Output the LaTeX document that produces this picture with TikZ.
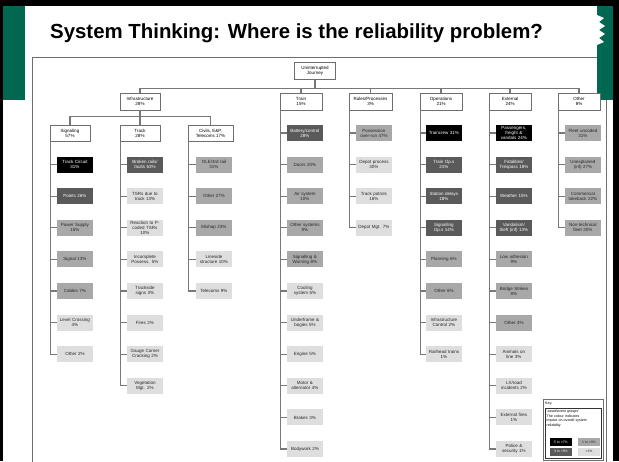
\documentclass[tikz,border=0pt]{standalone}
\usepackage{fontspec}
\setmainfont{Liberation Sans}
\definecolor{slidegreen}{RGB}{0,104,80}
\definecolor{gdark}{RGB}{90,90,90}
\definecolor{gmid}{RGB}{168,168,168}
\definecolor{glight}{RGB}{222,222,222}
\definecolor{boxgray}{RGB}{110,110,110}
\definecolor{lineg}{RGB}{120,120,120}
\begin{document}
\begin{tikzpicture}[x=1pt,y=-1pt,
  leaf/.style={minimum width=35pt, minimum height=16pt, inner sep=0.2pt,
    text width=35pt, align=center, anchor=west,
    font=\fontsize{4.5}{5.1}\selectfont},
  lvA/.style={leaf, fill=black, text=white},
  lvB/.style={leaf, fill=gdark, text=white},
  lvC/.style={leaf, fill=gmid, text=black!85},
  lvD/.style={leaf, fill=glight, text=black!85},
  catbox/.style={draw=boxgray, fill=white, line width=0.9pt, minimum width=42pt,
    minimum height=17pt, inner sep=0.4pt, align=center,
    font=\fontsize{4.5}{5.1}\selectfont},
  link/.style={draw=lineg, line width=1.1pt},
  keytxt/.style={font=\fontsize{3.6}{4.4}\selectfont, inner sep=0pt},
  swatch/.style={minimum width=22pt, minimum height=8pt, inner sep=0pt,
    font=\fontsize{3.4}{4}\selectfont}
]
\useasboundingbox (0,0) rectangle (619,461);
\fill[white] (0,0) rectangle (619,461);

% slide frame and diagram frame
\draw[boxgray, line width=0.8pt] (32,57) rectangle (606,475);
\fill[black] (0,0) rectangle (619,6);
\fill[black] (0,0) rectangle (3,461);
\fill[black] (613,0) rectangle (619,461);
\fill[slidegreen] (3,6) rectangle (25,100);
\fill[slidegreen] (597,6) rectangle (613,100);
\fill[white] (597,15) -- (604,18) -- (599,22) -- (605,26) -- (599,30) -- (605,34)
  -- (599,38) -- (604,42) -- (597,45) -- cycle;

% title
\node[anchor=west, inner sep=0pt, font=\fontsize{20.4}{23}\selectfont\bfseries]
  (title) at (50,33.5) {System Thinking: Where is the reliability problem?};

% top levels
\node[catbox, minimum width=41pt] (root) at (315,71) {Uninterrupted\\Journey};
\node[catbox, minimum width=40pt] (infra) at (140,101.5) {Infrastructure\\28\%};
\node[catbox] (train) at (301,101.5) {Train\\15\%};
\node[catbox, minimum width=43pt] (rules) at (370.5,101.5) {Rules/Processes\\3\%};
\node[catbox] (ops) at (441,101.5) {Operations\\21\%};
\node[catbox] (ext) at (510,101.5) {External\\24\%};
\node[catbox] (oth) at (579,101.5) {Other\\8\%};
\foreach \c in {infra,train,rules,ops,ext,oth}
  \draw[link] (root.south) -- ++(0,8.5) -| (\c.north);

\node[catbox, minimum width=40pt, minimum height=16pt] (sig) at (70,133) {Signaling\\57\%};
\node[catbox, minimum width=40pt, minimum height=16pt] (trk) at (140,133) {Track\\28\%};
\node[catbox, minimum width=45pt, minimum height=16pt] (civ) at (210.5,133) {Civils, E\&P,\\Telecoms 17\%};
\foreach \c in {sig,trk,civ}
  \draw[link] (infra.south) -- ++(0,6) -| (\c.north);

% Signaling
\foreach \st/\tx [count=\i from 0] in {
  lvA/{Track Circuit\\31\%}, lvB/{Points 26\%}, lvC/{Power Supply\\15\%},
  lvC/{Signal 13\%}, lvC/{Cables 7\%}, lvD/{Level Crossing\\4\%}, lvD/{Other 2\%}}{
  \node[\st] (sg\i) at (57,{164.6+31.6*\i}) {\tx};
  \draw[link] ([xshift=0.6pt]sig.south west) |- (sg\i.west);
}
% Track
\foreach \st/\tx [count=\i from 0] in {
  lvB/{Broken rails/\\faults 63\%}, lvD/{TSRs due to\\track 13\%},
  lvD/{Reaction to P-\\coded TSRs\\10\%}, lvD/{Incomplete\\Possess. 5\%},
  lvD/{Trackside\\signs 3\%}, lvD/{Fires 2\%}, lvD/{Gauge Corner\\Cracking 2\%},
  lvD/{Vegetation\\Mgt. 2\%}}{
  \node[\st] (tk\i) at (127,{164.6+31.6*\i}) {\tx};
  \draw[link] ([xshift=0.6pt]trk.south west) |- (tk\i.west);
}
% Civils
\foreach \st/\tx [count=\i from 0] in {
  lvC/{OLE/3rd rail\\31\%}, lvC/{Other 27\%}, lvC/{Mishap 23\%},
  lvD/{Lineside\\structure 10\%}, lvD/{Telecoms 9\%}}{
  \node[\st] (cv\i) at (196,{164.6+31.6*\i}) {\tx};
  \draw[link] ([xshift=0.6pt]civ.south west) |- (cv\i.west);
}
% Train
\foreach \st/\tx [count=\i from 0] in {
  lvB/{Battery/control\\28\%}, lvC/{Doors 20\%}, lvC/{Air system\\10\%},
  lvC/{Other systems\\9\%}, lvC/{Signalling \&\\Warning 8\%}, lvD/{Cooling\\system 6\%},
  lvD/{Underframe \&\\bogies 5\%}, lvD/{Engine 5\%}, lvD/{Motor \&\\alternator 4\%},
  lvD/{Brakes 3\%}, lvD/{Bodywork 2\%}}{
  \node[\st] (tr\i) at (287,{133+31.6*\i}) {\tx};
  \draw[link] ([xshift=0.6pt]train.south west) |- (tr\i.west);
}
% Rules/Processes
\foreach \st/\tx [count=\i from 0] in {
  lvC/{Possession\\over-run 47\%}, lvD/{Depot process\\30\%},
  lvD/{Track patrols\\16\%}, lvD/{Depot Mgt. 7\%}}{
  \node[\st] (rp\i) at (356,{133+31.6*\i}) {\tx};
  \draw[link] ([xshift=0.6pt]rules.south west) |- (rp\i.west);
}
% Operations
\foreach \st/\tx [count=\i from 0] in {
  lvA/{Traincrew 31\%}, lvB/{Train Op.s\\21\%}, lvB/{Station delays\\18\%},
  lvB/{Signalling\\Op.s 14\%}, lvC/{Planning 6\%}, lvC/{Other 6\%},
  lvD/{Infrastructure\\Control 2\%}, lvD/{Railhead trains\\1\%}}{
  \node[\st] (op\i) at (426,{133+31.6*\i}) {\tx};
  \draw[link] ([xshift=0.6pt]ops.south west) |- (op\i.west);
}
% External
\foreach \st/\tx [count=\i from 0] in {
  lvA/{Passengers,\\freight \&\\vandals 24\%}, lvB/{Fatalities/\\Trespass 18\%},
  lvB/{Weather 15\%}, lvB/{Vandalism/\\theft (inf) 13\%}, lvC/{Low adhesion\\9\%},
  lvC/{Bridge Strikes\\8\%}, lvC/{Other 4\%}, lvD/{Animals on\\line 3\%},
  lvD/{LX/road\\incidents 2\%}, lvD/{External fires\\1\%}, lvD/{Police \&\\security 1\%}}{
  \node[\st] (ex\i) at (496,{133+31.6*\i}) {\tx};
  \draw[link] ([xshift=0.6pt]ext.south west) |- (ex\i.west);
}
% Other
\foreach \st/\tx [count=\i from 0] in {
  lvC/{Fleet uncoded\\31\%}, lvC/{Unexplained\\(inf) 27\%},
  lvC/{Commercial\\takeback 22\%}, lvC/{Non-technical\\fleet 20\%}}{
  \node[\st] (ot\i) at (565,{133+31.6*\i}) {\tx};
  \draw[link] ([xshift=0.6pt]oth.south west) |- (ot\i.west);
}

% key
\draw[boxgray, line width=0.7pt, fill=white] (543,399) rectangle (603,460);
\node[keytxt, anchor=west] (keyhead) at (545,403.5) {Key:};
\draw[black!80, line width=0.6pt] (545,408) rectangle (601,458);
\node[keytxt, anchor=north west, text width=54pt, align=left] (keybody) at (546.5,410)
  {`asset/event groups'\\The colour indicates\\impact on overall system\\reliability};
\node[swatch, fill=black, text=white] (k1) at (561,442) {5 to <7\%};
\node[swatch, fill=gmid, text=black!85] (k2) at (589,442) {1 to <3\%};
\node[swatch, fill=gdark, text=white] (k3) at (561,451.5) {3 to <5\%};
\node[swatch, fill=glight, text=black!85] (k4) at (589,451.5) {<1\%};
\end{tikzpicture}
\end{document}
